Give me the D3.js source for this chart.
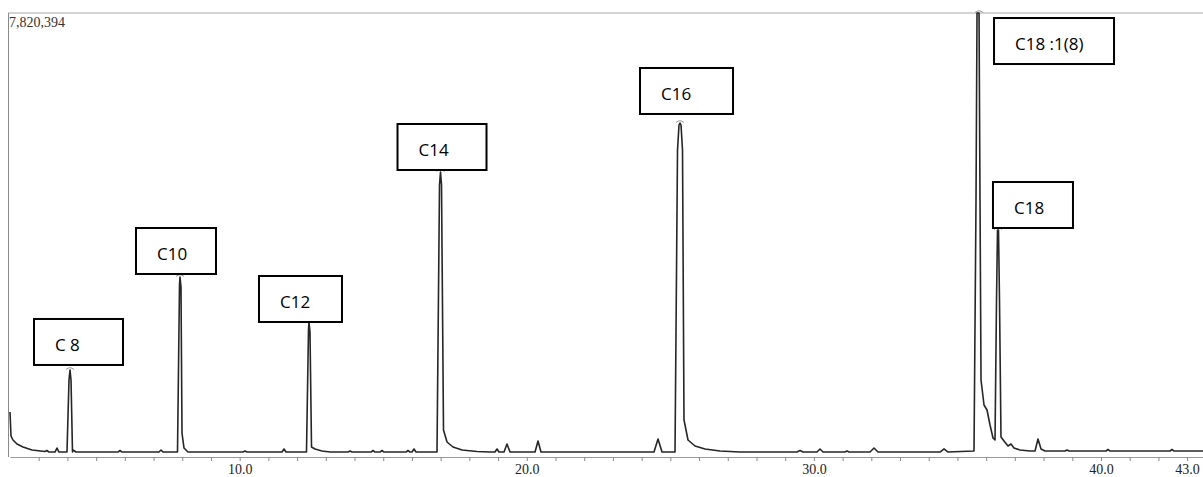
<!DOCTYPE html>
<html>
<head>
<meta charset="utf-8">
<script src="https://cdn.jsdelivr.net/npm/d3@7"></script>
<style>
  body { margin: 0; background: #fff; }
  svg { display: block; }
</style>
</head>
<body>
<script>
// retention time (min) and detector signal (thousand counts)
var retentionTime = [
  2.000, 2.035, 2.104, 2.244, 2.453, 2.766, 3.219, 3.289, 3.358, 3.567, 3.637, 3.707,
  3.985, 4.055, 4.090, 4.125, 4.177, 4.194, 4.299,
  5.762, 5.831, 5.901, 7.190, 7.260, 7.329,
  7.834, 7.904, 7.921, 7.956, 7.991, 8.061, 8.200,
  10.116, 10.185, 10.255, 11.474, 11.544, 11.613,
  12.327, 12.397, 12.414, 12.449, 12.502, 12.624, 12.867, 13.146,
  13.773, 13.843, 13.912, 14.574, 14.644, 14.713, 14.887, 14.957, 15.027,
  15.793, 15.863, 15.932, 16.002, 16.072, 16.141,
  16.873, 16.960, 16.995, 17.030, 17.099, 17.221, 17.430, 17.744, 18.266, 18.719,
  18.893, 18.963, 19.032, 19.207, 19.311, 19.416, 20.287, 20.391, 20.495,
  24.431, 24.571, 24.710,
  25.163, 25.250, 25.302, 25.337, 25.372, 25.424, 25.476, 25.616, 25.859, 26.208, 26.730, 27.427,
  29.412, 29.517, 29.621, 30.109, 30.213, 30.318, 31.084, 31.154, 31.224,
  31.955, 32.094, 32.234, 34.393, 34.532, 34.672,
  35.577, 35.647, 35.682, 35.752, 35.786, 35.821, 35.926, 36.030, 36.135, 36.239, 36.309,
  36.361, 36.395, 36.430, 36.465, 36.517, 36.622, 36.761, 36.866, 36.970, 37.179, 37.528,
  37.702, 37.806, 37.911, 38.050, 38.747, 38.817, 38.886,
  40.175, 40.245, 40.314, 42.404, 42.474, 42.543, 43.553
];
var signalK = [
  745, 319, 248, 177, 124, 71, 44, 62, 35, 35, 106, 35,
  35, 1312, 1490, 1312, 35, 71, 35,
  35, 62, 35, 35, 71, 35,
  35, 2997, 3139, 2961, 372, 106, 35,
  35, 53, 35, 35, 89, 35,
  35, 2199, 2341, 2163, 124, 89, 53, 35,
  35, 53, 35, 35, 62, 35, 35, 62, 35,
  35, 62, 35, 35, 89, 35,
  35, 4770, 5001, 4770, 426, 213, 124, 71, 44, 35,
  35, 89, 35, 35, 177, 35, 35, 231, 35,
  35, 266, 35,
  35, 5391, 5834, 5870, 5834, 5391, 603, 248, 142, 89, 53, 35,
  35, 62, 35, 35, 89, 35, 35, 53, 35,
  35, 106, 35, 35, 89, 35,
  53, 4504, 7820, 7820, 4504, 1312, 869, 780, 514, 284, 248,
  2731, 3972, 3972, 2731, 301, 231, 142, 177, 106, 71, 53,
  53, 266, 89, 53, 53, 71, 53,
  53, 80, 53, 53, 80, 53, 53
];

// identified peaks
var peakNames = ["C 8", "C10", "C12", "C14", "C16", "C18 :1(8)", "C18"];
var peakTimes = [4.090, 7.921, 12.414, 16.995, 25.337, 35.752, 36.412];
var peakHeightsK = [1490, 3139, 2341, 5001, 5870, 7820, 3972];

var fullScale = 7820394;
var axisTicks = d3.range(3, 44);
var labelTicks = [10, 20, 30, 40, 43];

// label box placement relative to peak apex (px)
var boxDx = [-36, -44, -50, -43, -40, 15, -5];
var boxDy = [-51, -49, -46, -48, -55, 5, -48];
var boxW = [89, 80, 83, 89, 93, 120, 80];
var boxH = 46;

var width = 1203, height = 477;
var svg = d3.select("body").append("svg")
    .attr("width", width)
    .attr("height", height);

var x = d3.scaleLinear().domain([2.0, 43.553]).range([10, 1203]);
var y = d3.scaleLinear().domain([0, fullScale]).range([454, 13]);

// frame
svg.append("line")
    .attr("x1", 8).attr("x2", width)
    .attr("y1", 13).attr("y2", 13)
    .attr("stroke", "#a8a8a8").attr("stroke-width", 1);
svg.append("line")
    .attr("x1", 8.5).attr("x2", 8.5)
    .attr("y1", 13).attr("y2", 457)
    .attr("stroke", "#8a8a8a").attr("stroke-width", 1);

svg.append("text")
    .attr("x", 9).attr("y", 27)
    .attr("font-family", "Liberation Serif, serif")
    .attr("font-size", "14px")
    .attr("fill", "#333")
    .text(d3.format(",")(fullScale));

// x axis
var xAxis = d3.axisBottom(x)
    .tickValues(axisTicks)
    .tickSize(4)
    .tickSizeOuter(0)
    .tickPadding(3)
    .tickFormat((d) => labelTicks.indexOf(d) >= 0 ? d3.format(".1f")(d) : "");
var ax = svg.append("g")
    .attr("transform", "translate(0,457)")
    .call(xAxis);
ax.select(".domain").attr("stroke", "#9a9a9a");
ax.selectAll(".tick line").attr("stroke", "#8a8a8a");
ax.selectAll("text")
    .attr("font-family", "Liberation Serif, serif")
    .attr("font-size", "14px")
    .attr("fill", "#222");

// trace
var pts = retentionTime.map((t, i) => [t, signalK[i] * 1000]);
var traceLine = d3.line()
    .x((d) => x(d[0]))
    .y((d) => y(d[1]));
svg.append("path")
    .datum(pts)
    .attr("d", traceLine)
    .attr("fill", "none")
    .attr("stroke", "#262626")
    .attr("stroke-width", 1.6)
    .attr("stroke-linejoin", "round");

// apex markers
peakTimes.forEach((t, i) => {
    var px = x(t), py = y(peakHeightsK[i] * 1000);
    svg.append("path")
        .attr("d", "M" + (px - 4) + "," + (py - 0.5) + " Q" + px + "," + (py - 4) + " " + (px + 4) + "," + (py - 0.5))
        .attr("fill", "none")
        .attr("stroke", "#999")
        .attr("stroke-width", 1);
});

// label boxes
peakNames.forEach((name, i) => {
    var px = x(peakTimes[i]), py = y(peakHeightsK[i] * 1000);
    var bx = px + boxDx[i], by = py + boxDy[i];
    svg.append("rect")
        .attr("x", bx).attr("y", by)
        .attr("width", boxW[i]).attr("height", boxH)
        .attr("fill", "#fff")
        .attr("stroke", "#000")
        .attr("stroke-width", 2);
    svg.append("text")
        .attr("x", bx + 21).attr("y", by + 32)
        .attr("font-family", "Open Sans, sans-serif")
        .attr("font-size", "17px")
        .attr("fill", "#000")
        .text(name);
});
</script>
</body>
</html>
